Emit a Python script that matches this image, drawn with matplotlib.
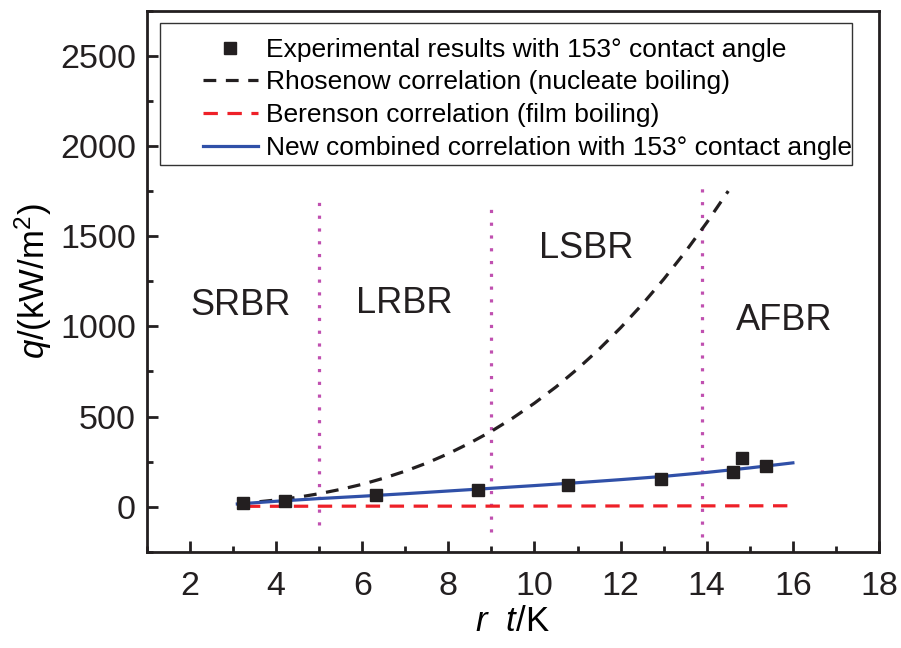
import numpy as np
import matplotlib
matplotlib.use("Agg")
import matplotlib.pyplot as plt
from matplotlib.patches import Rectangle
from matplotlib.ticker import MultipleLocator

plt.rcParams['font.family'] = ['Liberation Sans', 'DejaVu Sans']
plt.rcParams['mathtext.fontset'] = 'custom'
plt.rcParams['mathtext.rm'] = 'Liberation Sans'
plt.rcParams['mathtext.it'] = 'Liberation Sans:italic'

# experimental points
exp_dt = [3.24, 4.2, 6.33, 8.69, 10.78, 12.93, 14.6, 14.82, 15.37]
exp_q = [18, 33, 65, 93, 120, 154, 190, 270, 226]

# Rohsenow correlation (nucleate boiling)
rho_dt = [3.1, 3.5, 4, 4.5, 5, 5.5, 6, 6.5, 7, 7.5, 8, 8.5, 9, 9.5, 10,
          10.5, 11, 11.5, 12, 12.5, 13, 13.5, 14, 14.5]
rho_q = [17, 25, 37, 52, 72, 96, 124, 158, 197, 242, 294, 353, 418, 492, 574,
         664, 764, 873, 992, 1121, 1261, 1412, 1575, 1750]

# Berenson correlation (film boiling)
ber_dt = [3.3, 6, 9, 12, 16]
ber_q = [2, 3, 3, 4, 5]

# new combined correlation
new_dt = [3.1, 4, 5, 6, 7, 8, 9, 10, 11, 12, 13, 14, 15, 16]
new_q = [15, 30, 45, 58, 72, 87, 102, 117, 133, 150, 168, 190, 215, 243]

# regime boundaries and labels
bound_x = [5, 9, 13.9]
bound_ymin = [-100, -140, -170]
bound_ymax = [1728, 1700, 1767]
regimes = ['SRBR', 'LRBR', 'LSBR', 'AFBR']
regime_x = [3.17, 6.98, 11.2, 15.8]
regime_y = [1117, 1128, 1430, 1033]

fig = plt.figure(figsize=(9.01, 6.48), dpi=100)
ax = fig.add_axes([0.163, 0.1485, 0.8126, 0.835])

for xb, y0, y1 in zip(bound_x, bound_ymin, bound_ymax):
    ax.plot([xb, xb], [y0, y1], color='#C050B0', lw=2.3,
            linestyle=(0, (1, 3)), zorder=1)

ax.plot(exp_dt, exp_q, 's', color='#231F20', ms=9, zorder=5,
        label='Experimental results with 153° contact angle')
ax.plot(rho_dt, rho_q, color='#231F20', lw=2.3, linestyle=(0, (4, 3)),
        zorder=3, label='Rhosenow correlation (nucleate boiling)')
ax.plot(ber_dt, ber_q, color='#EE2028', lw=2.3, linestyle=(0, (4.5, 3)),
        zorder=3, label='Berenson correlation (film boiling)')
ax.plot(new_dt, new_q, color='#3050A8', lw=2.3, zorder=4,
        label='New combined correlation with 153° contact angle')

for name, xr, yr in zip(regimes, regime_x, regime_y):
    ax.text(xr, yr, name, fontsize=26, ha='center', va='center',
            color='#231F20')

ax.set_xlim(1, 18)
ax.set_ylim(-250, 2750)
ax.xaxis.set_major_locator(MultipleLocator(2))
ax.xaxis.set_minor_locator(MultipleLocator(1))
ax.yaxis.set_major_locator(MultipleLocator(500))
ax.yaxis.set_minor_locator(MultipleLocator(250))
ax.tick_params(which='both', direction='in', width=2, labelsize=24.5,
               colors='#231F20', pad=8)
ax.tick_params(which='major', length=8)
ax.tick_params(which='minor', length=4)
ax.tick_params(axis='x', pad=14)
for sp in ax.spines.values():
    sp.set_linewidth(2)
    sp.set_color('#231F20')

ax.set_xlabel(r'$\it{r}$  $\it{t}$/K', fontsize=25, labelpad=2)
ax.set_ylabel(r'$\it{q}$/(kW/m$^2$)', fontsize=25, labelpad=4)

# legend frame drawn separately so the padding can be uneven
ax.add_patch(Rectangle((0.0178, 0.715), 0.945, 0.262, transform=ax.transAxes,
                       facecolor='white', edgecolor='#333333', lw=1, zorder=6))
leg = ax.legend(loc='upper left', bbox_to_anchor=(0.076, 0.950),
                fontsize=19, frameon=False, handlelength=2.1,
                handletextpad=0.3, borderpad=0, labelspacing=0.33,
                borderaxespad=0)
leg.set_zorder(7)

fig.savefig('out.png', dpi=100)
